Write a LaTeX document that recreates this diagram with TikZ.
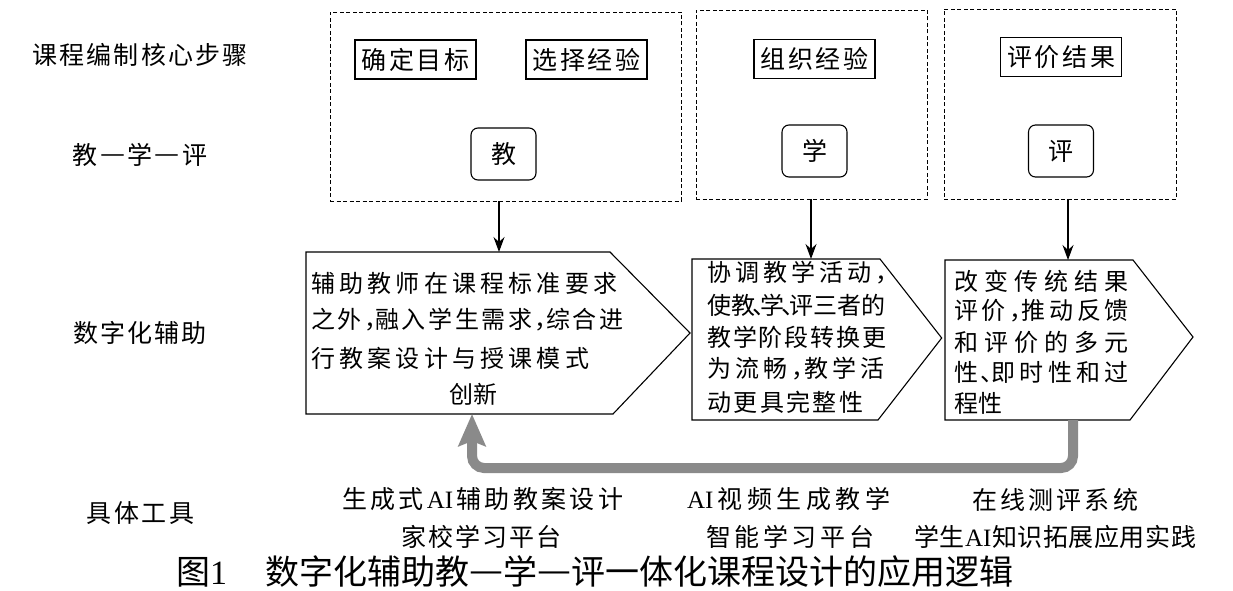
\documentclass[tikz,border=0pt]{standalone}
\usepackage{fontspec}
\usepackage{graphicx}
\setmainfont{Noto Sans CJK SC}
\newfontfamily\lat{Liberation Serif}
\usetikzlibrary{arrows.meta}
\definecolor{loopgray}{RGB}{138,138,138}
% spread the characters of #1 evenly
\let\sprdend\relax
\def\sprdendm{\sprdend}
\newcommand\sprd[1]{\sprda#1\sprdend}
\newcommand\sprda[1]{\def\sprdtmp{#1}\ifx\sprdtmp\sprdendm\unskip\else#1\hfil\expandafter\sprda\fi}
\newcommand\spr[2]{\makebox[#1pt][s]{\sprd{#2}}}
\newcommand\cm{\makebox[0.35em][l]{，}}
\newcommand\dn{\makebox[0.2em][l]{\kern-0.1em 、}}
\newcommand\emd{\makebox[1em]{\raisebox{0.07em}{\scalebox{1.12}[1]{—}}}}
\begin{document}
\begin{tikzpicture}[x=1pt,y=-1pt,
  lbl/.style={inner sep=0pt, font=\fontsize{25pt}{30pt}\selectfont},
  ptxt/.style={inner sep=0pt, anchor=west, font=\fontsize{24pt}{30pt}\selectfont},
  grp/.style={draw, dash pattern=on 4pt off 2.5pt, line width=0.9pt, inner sep=0pt},
  stepbox/.style={draw, line width=1.2pt, minimum width=121pt, minimum height=39pt, inner sep=0pt, font=\fontsize{25pt}{30pt}\selectfont},
  rolebox/.style={draw, rounded corners=7pt, line width=1.1pt, minimum width=65pt, minimum height=52pt, inner sep=0pt, font=\fontsize{25pt}{30pt}\selectfont},
  pent/.style={draw, line width=1.1pt},
  arr/.style={-{Stealth[length=15pt,width=11pt,inset=5pt]}, line width=1.1pt},
  loopline/.style={draw=loopgray, line width=10pt, rounded corners=12pt, -{Stealth[length=32pt,width=27pt,inset=5pt]}}
]
\fill[white] (0,0) rectangle (1233,591);
\useasboundingbox (0,0) rectangle (1233,591);

% left column labels
\node[lbl] (rowA) at (140,55) {\spr{214.5}{课程编制核心步骤}};
\node[lbl] (rowB) at (140,155) {\spr{134.5}{教{\emd}学{\emd}评}};
\node[lbl] (rowC) at (140,333) {\spr{132.5}{数字化辅助}};
\node[lbl] (rowD) at (140.5,513) {\spr{107.5}{具体工具}};

% dashed groups
\node[grp, minimum width=351pt, minimum height=189pt] (g1) at (505.5,106.5) {};
\node[grp, minimum width=231pt, minimum height=189pt] (g2) at (811.5,104.5) {};
\node[grp, minimum width=232pt, minimum height=190pt] (g3) at (1060,104) {};

% step boxes
\node[stepbox] (s1) at (415.5,59.5) {\spr{108}{确定目标}};
\node[stepbox] (s2) at (586.5,59.5) {\spr{108}{选择经验}};
\node[stepbox] (s3) at (814.5,59) {\spr{108}{组织经验}};
\node[stepbox] (s4) at (1061,57) {\spr{108}{评价结果}};

% role boxes
\node[rolebox] (r1) at (503.5,154) {教};
\node[rolebox] (r2) at (814.5,151) {学};
\node[rolebox] (r3) at (1061,151) {评};

% pentagons
\draw[pent] (306,252) -- (610,252) -- (690,333) -- (613,414) -- (306,414) -- cycle;
\draw[pent] (692,259) -- (880,259) -- (941.7,338) -- (878,420) -- (692,420) -- cycle;
\draw[pent] (945,260) -- (1133,260) -- (1193,337) -- (1130,420) -- (945,420) -- cycle;
\coordinate (p1top) at (499,252);
\coordinate (p2top) at (811,259);
\coordinate (p3top) at (1068,260);
\coordinate (p1bot) at (472,414);
\coordinate (p3bot) at (1073,420);

% pentagon texts
\node[ptxt] (t1a) at (311,283) {\spr{306}{辅助教师在课程标准要求}};
\node[ptxt] (t1b) at (311,320) {\spr{312}{之外{\cm}融入学生需求{\cm}综合进}};
\node[ptxt] (t1c) at (311,358) {\spr{278}{行教案设计与授课模式}};
\node[ptxt, anchor=center] (t1d) at (473,394) {创新};

\node[ptxt] (t2a) at (707,273) {\spr{177}{协调教学活动{\cm}}};
\node[ptxt] (t2b) at (707,305) {\spr{178}{使教{\dn}学{\dn}评三者的}};
\node[ptxt] (t2c) at (707,337) {\spr{179}{教学阶段转换更}};
\node[ptxt] (t2d) at (707,369) {\spr{177}{为流畅{\cm}教学活}};
\node[ptxt] (t2e) at (707,402) {\spr{156}{动更具完整性}};

\node[ptxt] (t3a) at (954,281) {\spr{174.5}{改变传统结果}};
\node[ptxt] (t3b) at (954,311) {\spr{174.5}{评价{\cm}推动反馈}};
\node[ptxt] (t3c) at (954,342) {\spr{174.5}{和评价的多元}};
\node[ptxt] (t3d) at (954,372) {\spr{174.5}{性{\dn}即时性和过}};
\node[ptxt] (t3e) at (954,403) {程性};

% arrows
\draw[arr] (g1.south -| p1top) -- (p1top);
\draw[arr] (g2.south -| p2top) -- (p2top);
\draw[arr] (g3.south -| p3top) -- (p3top);
\draw[loopline] (p3bot) -- ++(0,48) -| (p1bot);

% tools
\node[lbl] (u1) at (482.5,499) {\spr{281}{生成式{{\lat AI}}辅助教案设计}};
\node[lbl] (u2) at (481,537) {\spr{160}{家校学习平台}};
\node[lbl] (u3) at (788.5,499) {\spr{203}{{{\lat AI}}视频生成教学}};
\node[lbl] (u4) at (790,537) {\spr{168}{智能学习平台}};
\node[lbl] (u5) at (1055,500) {\spr{166}{在线测评系统}};
\node[lbl] (u6) at (1055,537) {\spr{282}{学生{{\lat AI}}知识拓展应用实践}};

% caption
\node[inner sep=0pt, anchor=west, font=\fontsize{34pt}{40pt}\selectfont] (cap) at (176,572)
  {图{\lat 1}\hspace{38pt}数字化辅助教\emd 学\emd 评一体化课程设计的应用逻辑};
\end{tikzpicture}
\end{document}
